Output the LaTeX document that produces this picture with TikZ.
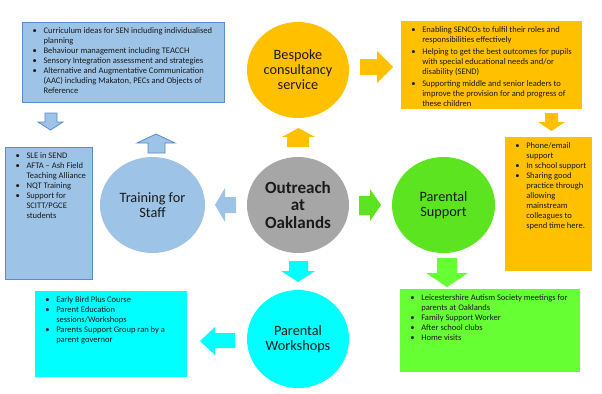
\documentclass[tikz,border=0pt]{standalone}
\usepackage{fontspec}
\setmainfont{Carlito}
\usetikzlibrary{shapes.geometric}
\definecolor{lblue}{HTML}{9DC3E6}
\definecolor{bblue}{HTML}{5B8BC9}
\definecolor{orng}{HTML}{FFC000}
\definecolor{gry}{HTML}{A6A6A6}
\definecolor{grn}{HTML}{5BE41F}
\definecolor{lgrn}{HTML}{66FF33}
\definecolor{cyn}{HTML}{00FFFF}
\definecolor{txt}{HTML}{1A1A1A}
\newcommand\boxfont{\fontsize{6.4}{7.5}\selectfont\lineskip=0pt\lineskiplimit=0pt}
\newcommand\bl[1]{\par\noindent\makebox[12.75pt][l]{\hspace{4.5pt}\textbullet}%
  \parbox[t]{\dimexpr\linewidth-12.75pt\relax}{\raggedright\strut #1\strut}\par}
\newcommand\nl{\newline}
\newcommand\infobox[7]{%
  \node[#2, anchor=north west, inner sep=3pt] (#1) at (#3,#4)
  {\parbox[c][\dimexpr 0.75pt*#6-6pt\relax][t]{\dimexpr 0.75pt*#5-6pt\relax}{\boxfont\raggedright #7}};}
\tikzset{
  circ/.style={ellipse, draw=none, inner sep=0pt, align=center, text=txt,
    font=\fontsize{10.7}{11.2}\selectfont},
  bluebox/.style={fill=lblue, draw=bblue, line width=0.8pt, text=txt},
  orangebox/.style={fill=orng, text=txt},
  cyanbox/.style={fill=cyn, text=txt},
  greenbox/.style={fill=lgrn, text=txt},
  bluearrow/.style={fill=lblue, draw=bblue, line width=0.6pt, line join=miter},
}
\begin{document}
\begin{tikzpicture}[x=0.75pt,y=-0.75pt]
\useasboundingbox[fill=white] (0,0) rectangle (602,393);

% circles
\node[circ, fill=gry, minimum width=76.5pt, minimum height=72pt,
  font=\fontsize{12.8}{13.3}\selectfont\bfseries] (out) at (298,205) {Outreach\\at\\Oaklands};
\node[circ, fill=orng, minimum width=76.5pt, minimum height=72pt] (besp) at (298,70) {Bespoke\\consultancy\\service};
\node[circ, fill=lblue, minimum width=78.75pt, minimum height=72pt] (train) at (152.5,205) {Training for\\Staff};
\node[circ, fill=grn, minimum width=77.25pt, minimum height=72pt] (psup) at (443.5,205) {Parental\\Support};
\node[circ, fill=cyn, minimum width=76.5pt, minimum height=73.5pt] (pwork) at (298,339) {Parental\\Workshops};

% boxes
\infobox{tlb}{bluebox}{22}{22}{202}{80}{%
\bl{Curriculum ideas for SEN including individualised\nl planning}
\bl{Behaviour management including TEACCH}
\bl{Sensory Integration assessment and strategies}
\bl{Alternative and Augmentative Communication\nl (AAC) including Makaton, PECs and Objects of\nl Reference}}

\infobox{lb}{bluebox}{5}{147}{87}{132}{%
\bl{SLE in SEND}
\bl{AFTA -- Ash Field\nl Teaching Alliance}
\bl{NQT Training}
\bl{Support for\nl SCITT/PGCE\nl students}}

\infobox{trb}{orangebox}{401}{21}{181}{88}{%
\bl{Enabling SENCOs to fulfil their roles and\nl responsibilities effectively}\vspace{1.4pt}
\bl{Helping to get the best outcomes for pupils\nl with special educational needs and/or\nl disability (SEND)}\vspace{1.4pt}
\bl{Supporting middle and senior leaders to\nl improve the provision for and progress of\nl these children}}

\infobox{rb}{orangebox}{505}{137}{87}{134}{%
\bl{Phone/email\nl support}
\bl{In school support}
\bl{Sharing good\nl practice through\nl allowing\nl mainstream\nl colleagues to\nl spend time here.}}

\infobox{blb}{cyanbox}{35}{291}{152}{86}{%
\bl{Early Bird Plus Course}
\bl{Parent Education\nl sessions/Workshops}
\bl{Parents Support Group ran by a\nl parent governor}}

\infobox{brb}{greenbox}{400}{289}{180}{83}{%
\bl{Leicestershire Autism Society meetings for\nl parents at Oaklands}
\bl{Family Support Worker}
\bl{After school clubs}
\bl{Home visits}}

% block arrows
% up orange (out -> besp)
\fill[orng] (287,147) -- (309,147) -- (309,137) -- (315,137) -- (298.5,128) -- (282,137) -- (287,137) -- cycle;
% right orange (besp -> trb)
\fill[orng] (360,59) -- (377,59) -- (377,51) -- (393,67) -- (377,83) -- (377,75) -- (360,75) -- cycle;
% down orange (trb -> rb)
\fill[orng] (545,113) -- (558,113) -- (558,122) -- (565,122) -- (551.5,131) -- (538,122) -- (545,122) -- cycle;
% left blue (out -> train)
\fill[lblue] (236,197) -- (225,197) -- (225,188) -- (215,205) -- (225,222) -- (225,213) -- (236,213) -- cycle;
% up blue (train -> tlb)
\path[bluearrow] (148,153) -- (165,153) -- (165,143) -- (175,143) -- (156,134) -- (137,143) -- (148,143) -- cycle;
% down blue (tlb -> lb)
\path[bluearrow] (45,113) -- (57,113) -- (57,122) -- (63,122) -- (50.5,130) -- (38,122) -- (45,122) -- cycle;
% right green (out -> psup)
\fill[grn] (359,196) -- (370,196) -- (370,189) -- (381,205) -- (370,221) -- (370,215) -- (359,215) -- cycle;
% down light green (psup -> brb)
\fill[lgrn] (437,258) -- (457,258) -- (457,273) -- (468,273) -- (447,287) -- (426,273) -- (437,273) -- cycle;
% down cyan (out -> pwork)
\fill[cyn] (289,261) -- (308,261) -- (308,271) -- (315,271) -- (298,282) -- (281,271) -- (289,271) -- cycle;
% left cyan (pwork -> blb)
\fill[cyn] (235,333) -- (215,333) -- (215,327) -- (200,341) -- (215,355) -- (215,348) -- (235,348) -- cycle;
\end{tikzpicture}
\end{document}
